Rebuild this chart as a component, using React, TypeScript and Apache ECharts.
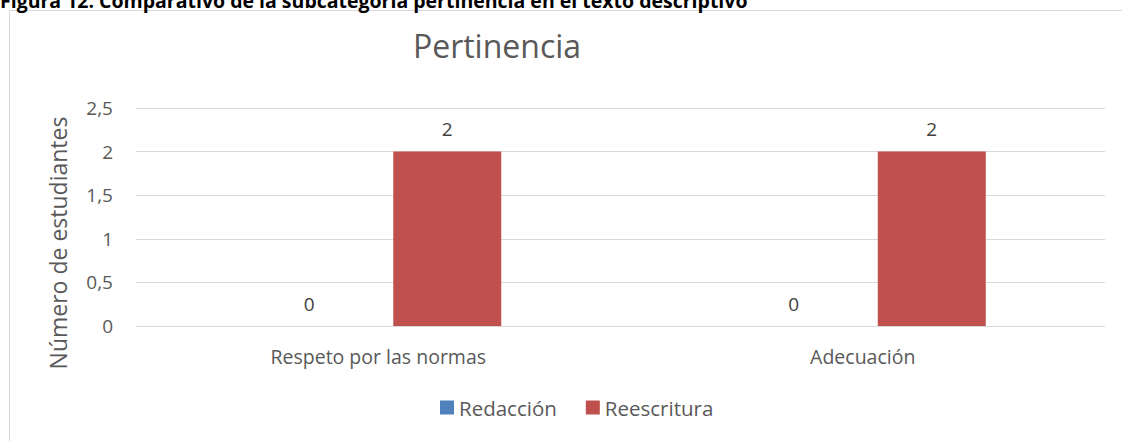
import React, { useEffect, useRef } from "react";
import * as echarts from "echarts";

const categories = ["Respeto por las normas", "Adecuación"];
const seriesNames = ["Redacción", "Reescritura"];
const redaccion = [0, 0];
const reescritura = [2, 2];
const yTicks = [0, 0.5, 1, 1.5, 2, 2.5];
const chartTitle = "Pertinencia";
const yAxisName = "Número de estudiantes";
const figureCaption =
  "Figura 12. Comparativo de la subcategoría pertinencia en el texto descriptivo";

const FONT = "'Open Sans', sans-serif";
const TEXT = "#595959";

export default function App() {
  const ref = useRef<HTMLDivElement>(null);
  useEffect(() => {
    if (!ref.current) return;
    const chart = echarts.init(ref.current, undefined, { renderer: "svg" });
    chart.setOption({
      animation: false,
      textStyle: { fontFamily: FONT },
      graphic: [
        {
          type: "rect",
          shape: { x: 9.5, y: 10.5, width: 1300, height: 600 },
          style: { fill: "#fff", stroke: "#d9d9d9", lineWidth: 1 },
          z: -10,
        },
        {
          type: "text",
          x: 0,
          y: 10,
          style: {
            text: figureCaption,
            font: `bold 19.5px ${FONT}`,
            fill: "#000",
            verticalAlign: "bottom",
          },
        },
        {
          type: "text",
          x: 58,
          y: 243,
          rotation: Math.PI / 2,
          style: {
            text: yAxisName,
            font: `23px ${FONT}`,
            fill: TEXT,
            align: "center",
            verticalAlign: "middle",
          },
        },
      ],
      title: {
        text: chartTitle,
        left: 492,
        top: 24,
        textAlign: "center",
        textStyle: { fontFamily: FONT, fontSize: 32, fontWeight: "normal", color: TEXT },
      },
      legend: {
        data: seriesNames,
        bottom: 18,
        left: 435,
        itemWidth: 14,
        itemHeight: 14,
        itemGap: 29,
        icon: "rect",
        textStyle: { fontFamily: FONT, fontSize: 20.5, color: TEXT },
      },
      grid: { left: 136, right: 17, top: 108, bottom: 115, containLabel: false },
      xAxis: {
        type: "category",
        data: categories,
        axisLine: { lineStyle: { color: "#d9d9d9", width: 1 } },
        axisTick: { show: false },
        axisLabel: { fontFamily: FONT, fontSize: 19.5, color: TEXT, margin: 20 },
      },
      yAxis: {
        type: "value",
        min: yTicks[0],
        max: yTicks[yTicks.length - 1],
        interval: 0.5,
        axisLine: { show: false },
        axisTick: { show: false },
        splitLine: { lineStyle: { color: "#d9d9d9", width: 1 } },
        axisLabel: {
          fontFamily: FONT,
          fontSize: 19,
          color: TEXT,
          margin: 23,
          formatter: (v: number) => String(v).replace(".", ","),
        },
      },
      series: [
        {
          name: seriesNames[0],
          type: "bar",
          data: redaccion,
          barWidth: 108,
          barGap: "27.8%",
          itemStyle: { color: "#4F81BD" },
          label: { show: true, position: "top", distance: 13, fontFamily: FONT, fontSize: 19, color: "#404040" },
        },
        {
          name: seriesNames[1],
          type: "bar",
          data: reescritura,
          barWidth: 108,
          barGap: "27.8%",
          itemStyle: { color: "#C0504D" },
          label: { show: true, position: "top", distance: 13, fontFamily: FONT, fontSize: 19, color: "#404040" },
        },
      ],
    });
    return () => chart.dispose();
  }, []);
  return (
    <div
      ref={ref}
      style={{ position: "absolute", left: 0, top: 0, width: 1122, height: 441, background: "#fff" }}
    />
  );
}
